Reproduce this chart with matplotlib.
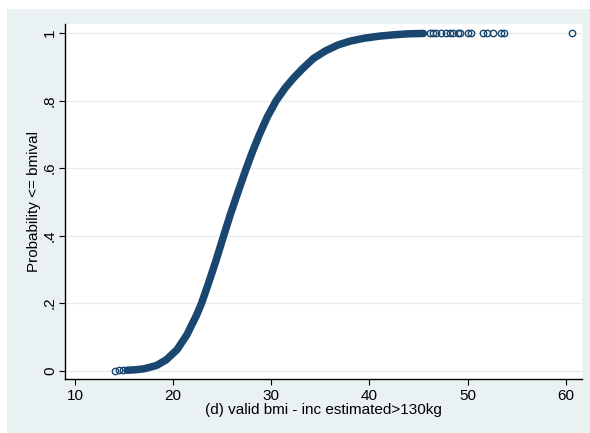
import matplotlib
matplotlib.use("Agg")
import matplotlib.pyplot as plt
from matplotlib.patches import Rectangle

plt.rcParams['font.family'] = ['Liberation Sans', 'DejaVu Sans']

# cumulative distribution (bmi, P(bmi <= x))
bmi_band = [15.3, 16.0, 17.0, 18.3, 19.3, 20.4, 21.4, 22.4, 22.9, 23.5, 24.3,
            25.1, 25.8, 26.5, 27.4, 28.1, 28.8, 29.6, 30.5, 31.4, 32.3, 33.2,
            34.3, 35.5, 36.8, 38.0, 39.5, 41.0, 42.5, 44.0, 45.5]
cdf_band = [0.001, 0.002, 0.005, 0.015, 0.032, 0.062, 0.106, 0.165, 0.2, 0.25,
            0.32, 0.395, 0.46, 0.52, 0.595, 0.65, 0.70, 0.752, 0.80, 0.837,
            0.868, 0.895, 0.925, 0.947, 0.965, 0.976, 0.985, 0.991, 0.995,
            0.998, 0.999]

# isolated points at both ends
bmi_low = [14.07, 14.5, 14.9]
cdf_low = [0.0001, 0.0002, 0.0003]
bmi_high = [46.15, 46.5, 46.8, 47.3, 47.8, 48.2, 48.5, 49.0, 49.2, 50.05,
            50.4, 51.6, 52.0, 52.6, 53.45, 53.7, 60.6]
cdf_high = [0.9992, 0.9993, 0.9993, 0.9994, 0.9994, 0.9995, 0.9995, 0.9996,
            0.9996, 0.9997, 0.9997, 0.9998, 0.9998, 0.9998, 0.9999, 0.9999, 1.0]

xticks = [10, 20, 30, 40, 50, 60]
yticks = [0, 0.2, 0.4, 0.6, 0.8, 1]
ytick_labels = ["0", ".2", ".4", ".6", ".8", "1"]

navy = "#1a476f"
region = "#eaf1f3"

fig = plt.figure(figsize=(5.9, 4.33), dpi=100)
fig.patch.set_facecolor("white")
fig.patches.append(Rectangle((7 / 590, 0), 1 - 7 / 590, 1 - 9 / 433,
                             transform=fig.transFigure, facecolor=region,
                             edgecolor="none", zorder=-10))

ax = fig.add_axes([65 / 590, 54 / 433, 517 / 590, 355 / 433])
ax.set_facecolor("white")

ax.plot(bmi_band, cdf_band, color=navy, lw=5.4, solid_capstyle="round",
        solid_joinstyle="round", zorder=3)
ax.plot(bmi_low + bmi_high, cdf_low + cdf_high, ls="none", marker="o",
        ms=4.6, mfc="none", mec=navy, mew=1.0, zorder=4)

ax.set_xlim(8.98, 61.66)
ax.set_ylim(-0.025, 1.027)
ax.set_xticks(xticks)
ax.set_yticks(yticks)
ax.set_yticklabels(ytick_labels, rotation=90, va="center")

for y in yticks:
    ax.axhline(y, color="#e6eef0", lw=1.0, zorder=1)

for s in ["top", "right"]:
    ax.spines[s].set_visible(False)
for s in ["left", "bottom"]:
    ax.spines[s].set_color("black")
    ax.spines[s].set_linewidth(1.0)

ax.tick_params(axis="both", direction="out", length=4, width=0.8,
               labelsize=11, colors="black")
ax.tick_params(axis="x", pad=3.5)
ax.tick_params(axis="y", pad=1.8)

ax.set_xlabel("(d) valid bmi - inc estimated>130kg", fontsize=11, labelpad=0)
ax.set_ylabel("Probability <= bmival", fontsize=11, labelpad=1.5)

fig.savefig("out.png", dpi=100, facecolor=fig.get_facecolor())
